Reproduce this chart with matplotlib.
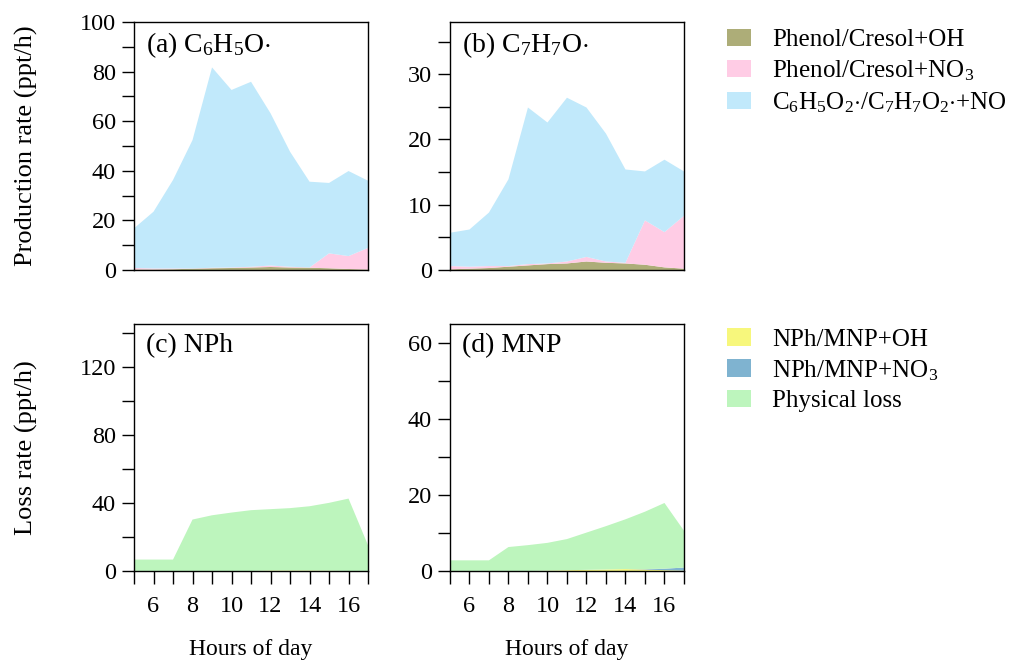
import numpy as np
import matplotlib
matplotlib.use("Agg")
import matplotlib.pyplot as plt
from matplotlib.patches import Patch
from matplotlib.ticker import MultipleLocator

plt.rcParams["font.family"] = ["Liberation Serif", "DejaVu Serif"]
plt.rcParams["mathtext.fontset"] = "custom"
plt.rcParams["mathtext.rm"] = "Liberation Serif"
plt.rcParams["mathtext.it"] = "Liberation Serif:italic"
plt.rcParams["font.size"] = 17.5

hours = np.arange(5, 18)

# production of phenoxy radicals (ppt/h), stacked: OH, NO3, RO2+NO
phenoxy_oh = [0.2, 0.2, 0.3, 0.5, 0.7, 0.8, 1.0, 1.2, 1.0, 0.9, 0.7, 0.4, 0.2]
phenoxy_no3 = [0.6, 0.4, 0.3, 0.1, 0.2, 0.2, 0.3, 0.6, 0.3, 0.1, 6.0, 5.2, 8.7]
phenoxy_no = [16.0, 22.9, 35.7, 51.8, 80.8, 71.6, 74.6, 61.4, 46.4, 34.6, 28.4, 34.3, 27.1]

methylphenoxy_oh = [0.1, 0.2, 0.3, 0.5, 0.7, 0.9, 1.0, 1.3, 1.1, 1.0, 0.8, 0.4, 0.2]
methylphenoxy_no3 = [0.5, 0.3, 0.3, 0.1, 0.2, 0.1, 0.3, 0.7, 0.2, 0.1, 6.8, 5.4, 8.1]
methylphenoxy_no = [5.1, 5.7, 8.2, 13.3, 24.0, 21.6, 25.1, 22.9, 19.6, 14.3, 7.5, 11.1, 6.8]

# loss of nitrophenols (ppt/h), stacked: OH, NO3, physical
nph_oh = [0, 0, 0, 0, 0, 0, 0, 0.3, 0.3, 0.3, 0.2, 0, 0]
nph_no3 = [0, 0, 0, 0, 0, 0, 0, 0, 0, 0, 0, 0, 0]
nph_phys = [6.7, 6.7, 6.7, 30.2, 32.7, 34.3, 35.7, 36.0, 36.6, 37.7, 39.8, 42.5, 15.1]

mnp_oh = [0, 0, 0, 0, 0, 0.1, 0.2, 0.3, 0.4, 0.5, 0.4, 0.2, 0.1]
mnp_no3 = [0, 0, 0, 0, 0, 0, 0, 0, 0, 0, 0.1, 0.4, 0.8]
mnp_phys = [2.8, 2.8, 2.8, 6.3, 6.8, 7.3, 8.2, 9.8, 11.4, 13.1, 15.1, 17.3, 9.7]

prod_labels = ["Phenol/Cresol+OH", "Phenol/Cresol+NO$_3$",
               r"C$_6$H$_5$O$_2$$\cdot$/C$_7$H$_7$O$_2$$\cdot$+NO"]
loss_labels = ["NPh/MNP+OH", "NPh/MNP+NO$_3$", "Physical loss"]
prod_colors = ["#adad78", "#ffcce5", "#c1e9fb"]
loss_colors = ["#f7f77c", "#7fb3d0", "#bdf5bd"]

fig = plt.figure(figsize=(10.1, 6.63), dpi=100)
ax_a = fig.add_axes([0.1327, 0.5928, 0.2317, 0.374])
ax_b = fig.add_axes([0.4455, 0.5928, 0.2317, 0.374])
ax_c = fig.add_axes([0.1327, 0.1388, 0.2317, 0.3725])
ax_d = fig.add_axes([0.4455, 0.1388, 0.2317, 0.3725])

ax_a.stackplot(hours, phenoxy_oh, phenoxy_no3, phenoxy_no, colors=prod_colors, lw=0)
ax_b.stackplot(hours, methylphenoxy_oh, methylphenoxy_no3, methylphenoxy_no, colors=prod_colors, lw=0)
ax_c.stackplot(hours, nph_oh, nph_no3, nph_phys, colors=loss_colors, lw=0)
ax_d.stackplot(hours, mnp_oh, mnp_no3, mnp_phys, colors=loss_colors, lw=0)

settings = [
    (ax_a, r"(a) C$_6$H$_5$O$\cdot$", (0, 100), 20, 10),
    (ax_b, r"(b) C$_7$H$_7$O$\cdot$", (0, 38), 10, 5),
    (ax_c, "(c) NPh", (0, 145), 40, 20),
    (ax_d, "(d) MNP", (0, 65), 20, 10),
]
for ax, title, ylim, major, minor in settings:
    ax.set_xlim(5, 17)
    ax.set_ylim(*ylim)
    ax.yaxis.set_major_locator(MultipleLocator(major))
    ax.yaxis.set_minor_locator(MultipleLocator(minor))
    ax.tick_params(axis="both", which="both", direction="out", length=9, width=1,
                   top=False, right=False, labelsize=17.5)
    ax.tick_params(axis="y", pad=4)
    ax.tick_params(axis="x", pad=9)
    ax.text(0.05, 0.965, title, transform=ax.transAxes, ha="left", va="top", fontsize=20)
    for s in ax.spines.values():
        s.set_linewidth(1)

for ax in (ax_a, ax_b):
    ax.tick_params(axis="x", which="both", bottom=False, labelbottom=False)

for ax in (ax_c, ax_d):
    ax.set_xticks(hours)
    ax.set_xticklabels([str(h) if h % 2 == 0 else "" for h in hours])
    ax.set_xlabel("Hours of day", fontsize=17, labelpad=16)

ax_a.set_ylabel("Production rate (ppt/h)", fontsize=19, labelpad=30)
ax_c.set_ylabel("Loss rate (ppt/h)", fontsize=19, labelpad=30)

prod_handles = [Patch(facecolor=c, edgecolor="none") for c in prod_colors]
loss_handles = [Patch(facecolor=c, edgecolor="none") for c in loss_colors]
legend_kw = dict(frameon=False, fontsize=18, handlelength=0.95, handleheight=0.7,
                 handletextpad=0.85, labelspacing=0.29, loc="upper left",
                 borderpad=0, borderaxespad=0)
fig.legend(prod_handles, prod_labels, bbox_to_anchor=(0.72, 0.957), **legend_kw)
fig.legend(loss_handles, loss_labels, bbox_to_anchor=(0.72, 0.505), **legend_kw)

fig.savefig("out.png", dpi=100)
